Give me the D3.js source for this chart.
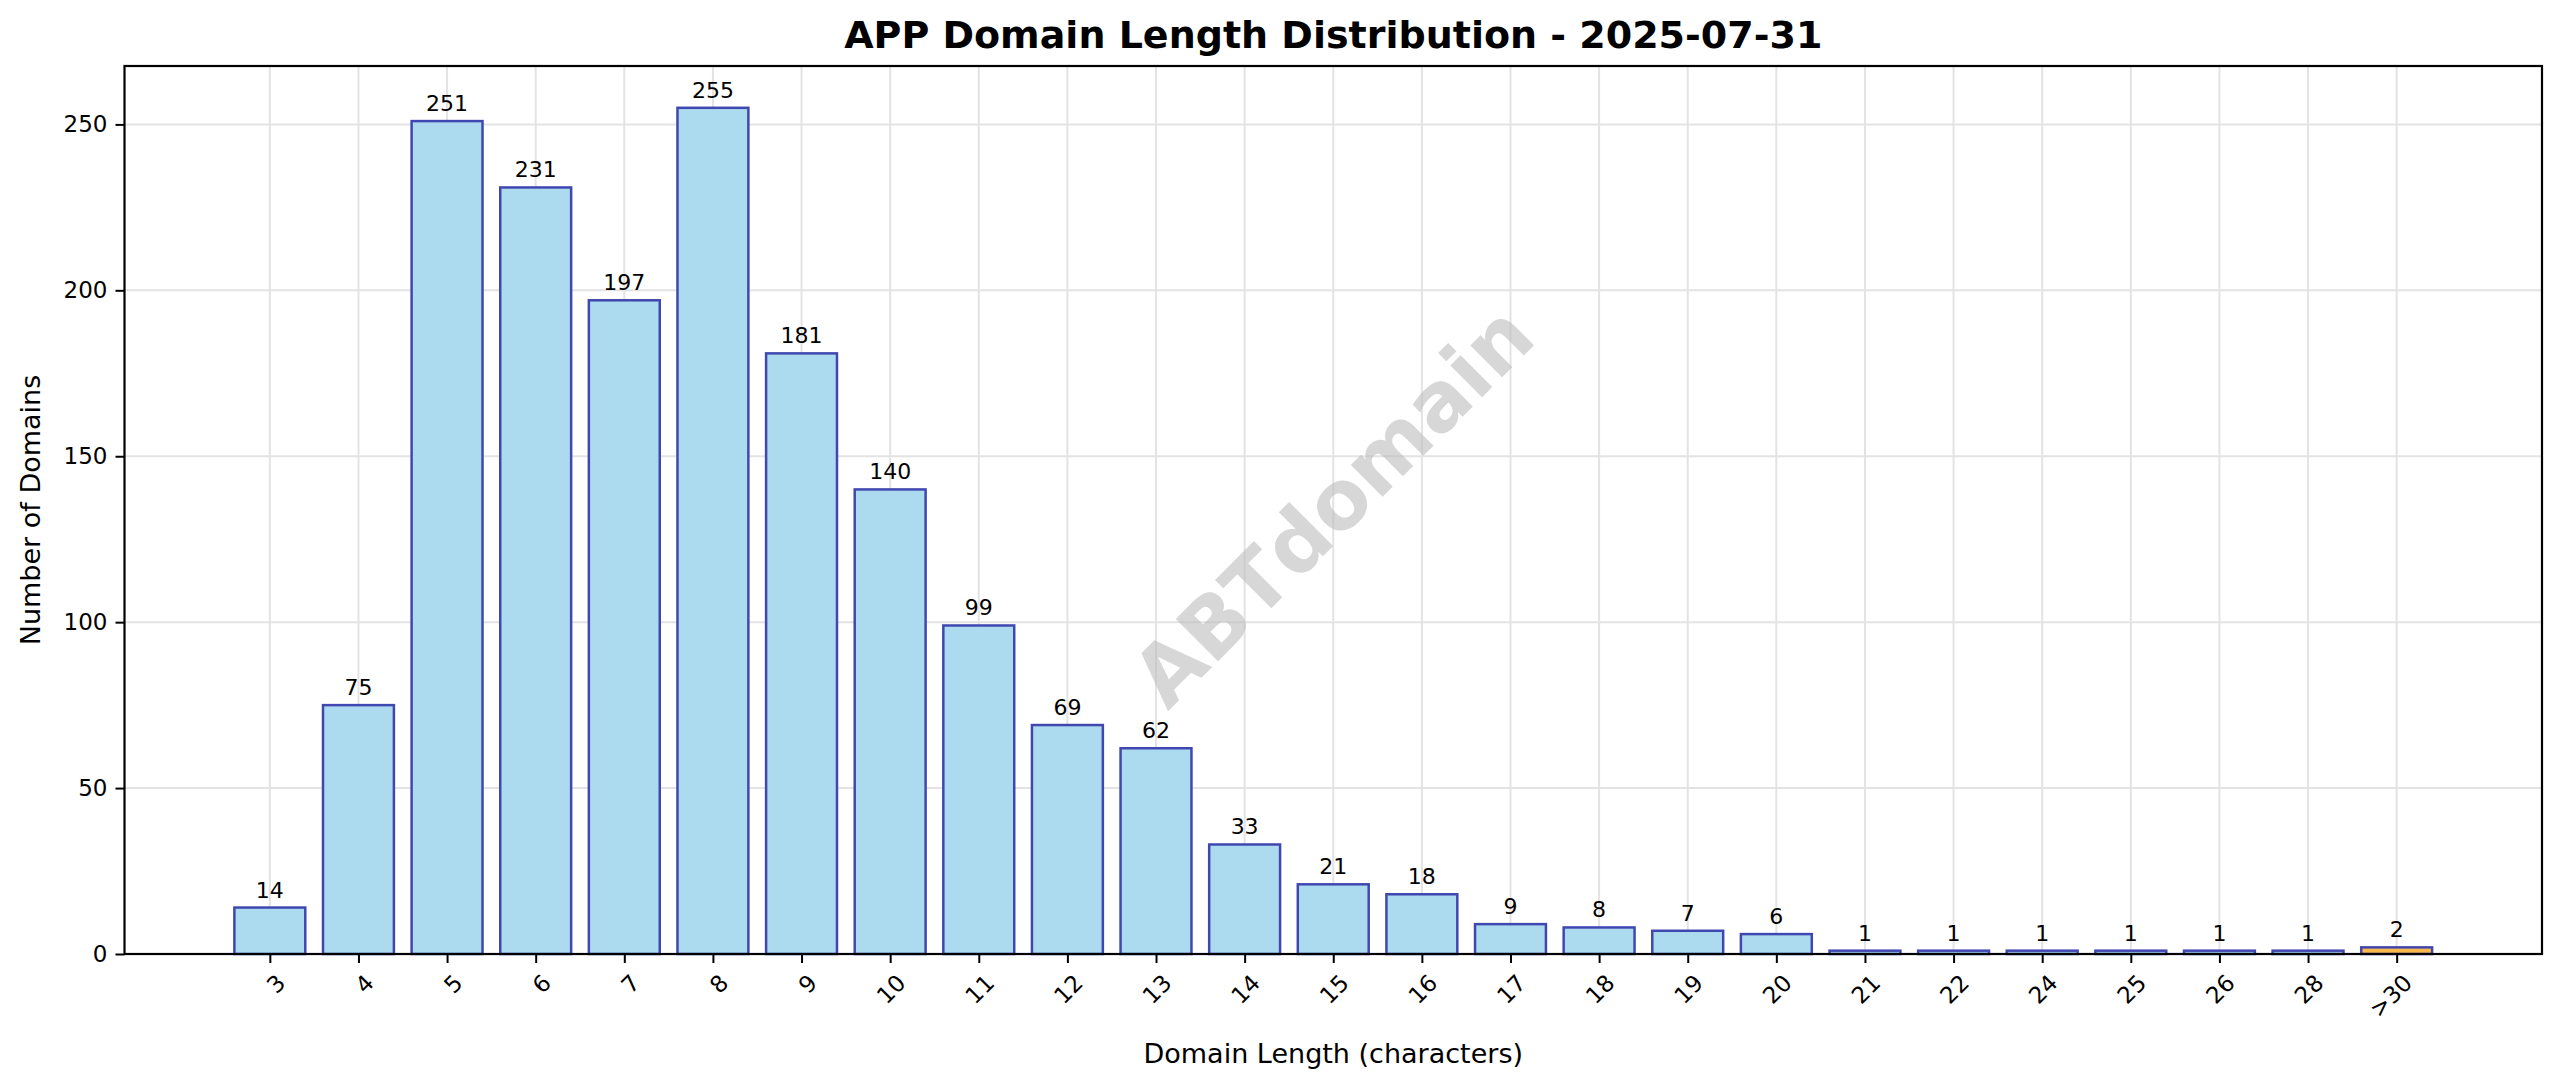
<!DOCTYPE html>
<html>
<head>
<meta charset="utf-8">
<script src="https://cdn.jsdelivr.net/npm/d3@7"></script>
<style>
  body { margin: 0; background: #fff; }
  text { font-family: "DejaVu Sans", sans-serif; }
</style>
</head>
<body>
<svg id="chart"></svg>
<script>
var categories = ["3","4","5","6","7","8","9","10","11","12","13","14","15","16","17","18","19","20","21","22","24","25","26","28",">30"];
var counts = [14, 75, 251, 231, 197, 255, 181, 140, 99, 69, 62, 33, 21, 18, 9, 8, 7, 6, 1, 1, 1, 1, 1, 1, 2];
var yTicks = [0, 50, 100, 150, 200, 250];

var width = 2560, height = 1087;
var plotL = 124.5, plotR = 2542, plotT = 66, plotB = 954;

var svg = d3.select("#chart")
    .attr("width", width)
    .attr("height", height);

var x = d3.scaleLinear().domain([-1.64, categories.length - 1 + 1.64]).range([plotL, plotR]);
var y = d3.scaleLinear().domain([0, 267.6]).range([plotB, plotT]);
var bw = x(0.8) - x(0);

// grid
svg.append("g").selectAll("line")
    .data(categories)
    .enter().append("line")
    .attr("x1", function(d, i) { return x(i); })
    .attr("x2", function(d, i) { return x(i); })
    .attr("y1", plotT).attr("y2", plotB)
    .attr("stroke", "#e3e3e3").attr("stroke-width", 2);
svg.append("g").selectAll("line")
    .data(yTicks)
    .enter().append("line")
    .attr("x1", plotL).attr("x2", plotR)
    .attr("y1", function(d) { return y(d); })
    .attr("y2", function(d) { return y(d); })
    .attr("stroke", "#e3e3e3").attr("stroke-width", 2);

// watermark
svg.append("text")
    .attr("transform", "translate(" + 1333 + "," + 506 + ") rotate(-45)")
    .attr("text-anchor", "middle")
    .attr("dominant-baseline", "central")
    .attr("font-size", 82)
    .attr("font-weight", "bold")
    .attr("fill", "#bdbdbd")
    .attr("opacity", 0.6)
    .text("ABTdomain");

// bars
svg.append("g").selectAll("rect")
    .data(counts)
    .enter().append("rect")
    .attr("x", function(d, i) { return x(i) - bw / 2; })
    .attr("y", function(d) { return y(d); })
    .attr("width", bw)
    .attr("height", function(d) { return y(0) - y(d); })
    .attr("fill", function(d, i) { return categories[i] == ">30" ? "#fbb84b" : "#acdbef"; })
    .attr("stroke", "#4048b0")
    .attr("stroke-width", 2.5);

// value labels
svg.append("g").selectAll("text")
    .data(counts)
    .enter().append("text")
    .attr("x", function(d, i) { return x(i); })
    .attr("y", function(d) { return y(d) - 10; })
    .attr("text-anchor", "middle")
    .attr("font-size", 22)
    .attr("fill", "#000")
    .text(function(d) { return d; });

// frame
svg.append("rect")
    .attr("x", plotL).attr("y", plotT)
    .attr("width", plotR - plotL).attr("height", plotB - plotT)
    .attr("fill", "none").attr("stroke", "#000").attr("stroke-width", 2.2);

// y axis
var yAxis = svg.append("g")
    .attr("transform", "translate(" + plotL + ",0)")
    .call(d3.axisLeft(y).tickValues(yTicks).tickSize(9).tickPadding(8));
yAxis.select(".domain").remove();
yAxis.selectAll("line").attr("stroke", "#000").attr("stroke-width", 2);
yAxis.selectAll("text").attr("font-size", 23).attr("font-family", "DejaVu Sans");

// x axis
var xAxis = svg.append("g")
    .attr("transform", "translate(0," + plotB + ")")
    .call(d3.axisBottom(x).tickValues(d3.range(categories.length))
        .tickFormat(function(i) { return categories[i]; }).tickSize(9));
xAxis.select(".domain").remove();
xAxis.selectAll("line").attr("stroke", "#000").attr("stroke-width", 2);
xAxis.selectAll("text")
    .attr("font-size", 23).attr("font-family", "DejaVu Sans")
    .attr("text-anchor", "end")
    .attr("dy", 0)
    .attr("transform", "translate(8,22) rotate(-45)");

// titles
svg.append("text")
    .attr("x", (plotL + plotR) / 2).attr("y", 48)
    .attr("text-anchor", "middle")
    .attr("font-size", 38).attr("font-weight", "bold")
    .text("APP Domain Length Distribution - 2025-07-31");
svg.append("text")
    .attr("x", (plotL + plotR) / 2).attr("y", 1063)
    .attr("text-anchor", "middle")
    .attr("font-size", 27)
    .text("Domain Length (characters)");
svg.append("text")
    .attr("transform", "translate(40," + ((plotT + plotB) / 2) + ") rotate(-90)")
    .attr("text-anchor", "middle")
    .attr("font-size", 27)
    .text("Number of Domains");
</script>
</body>
</html>
